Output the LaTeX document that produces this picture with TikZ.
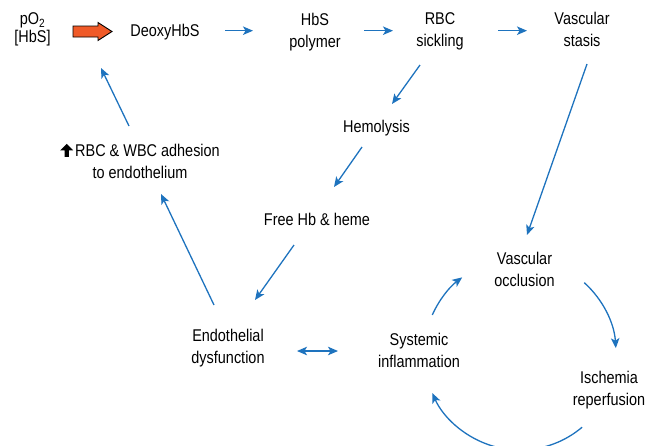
\documentclass[tikz,border=0pt]{standalone}
\usepackage{fontspec}
\setmainfont{Liberation Sans}[FakeStretch=0.85]
\usepackage{xcolor}
\usetikzlibrary{arrows.meta}

\definecolor{flowblue}{RGB}{30,115,190}
\definecolor{pushorange}{RGB}{240,90,40}

\newcommand{\uparr}{\tikz[x=1pt,y=1pt,baseline=0pt]\fill (4.3,0) -- (8.7,0) -- (8.7,6.5) -- (13,6.5) -- (6.5,13) -- (0,6.5) -- (4.3,6.5) -- cycle;\hspace{2pt}}

\begin{document}
\begin{tikzpicture}[x=1pt, y=-1pt,
  lbl/.style={align=center, inner sep=0pt, font=\fontsize{17}{22}\selectfont},
  flow/.style={flowblue, line width=1.3pt, -{Stealth[length=10pt,width=8.5pt,inset=2.5pt]}},
  twoway/.style={flow, {Stealth[length=10pt,width=8.5pt,inset=2.5pt]}-{Stealth[length=10pt,width=8.5pt,inset=2.5pt]}}]
	\useasboundingbox (0,0) rectangle (659,445);
	\node[lbl, font=\fontsize{17}{18.5}\selectfont] (po2) at (32.5,29.5) {pO\textsubscript{2}\\{}[HbS]};
	\draw[fill=pushorange, line width=0.9pt] (73,26) -- (98,26) -- (98,22.5) -- (112,31.5) -- (98,40.5) -- (98,37) -- (73,37) -- cycle;
	\node[lbl] (deoxy) at (165,31.7) {DeoxyHbS};
	\node[lbl] (hbs) at (315,31.7) {HbS\\polymer};
	\node[lbl] (sick) at (440,31.7) {RBC\\sickling};
	\node[lbl] (stasis) at (582,29.9) {Vascular\\stasis};
	\node[lbl] (hemo) at (376.5,127.7) {Hemolysis};
	\node[lbl] (freehb) at (317,219.9) {Free Hb \& heme};
	\node[lbl] (adh) at (140,161.4) {\uparr RBC \& WBC adhesion\\to endothelium};
	\node[lbl] (endo) at (228,348.2) {Endothelial\\dysfunction};
	\node[lbl] (sysinf) at (419,350.9) {Systemic\\inflammation};
	\node[lbl] (occl) at (524.5,269.9) {Vascular\\occlusion};
	\node[lbl] (isch) at (609,389.7) {Ischemia\\reperfusion};
	% top row
	\draw[flow] ([shift={(60,-1)}]deoxy.center) -- ([shift={(-62,-1)}]hbs.center);
	\draw[flow] ([shift={(49,-1)}]hbs.center) -- ([shift={(-47,-1)}]sick.center);
	\draw[flow] ([shift={(58,-1)}]sick.center) -- ([shift={(-55,0.8)}]stasis.center);
	% hemolysis branch
	\draw[flow] ([shift={(-20,33.3)}]sick.center) -- ([shift={(15.5,-23.7)}]hemo.center);
	\draw[flow] ([shift={(-14.5,19.3)}]hemo.center) -- ([shift={(17,-32.9)}]freehb.center);
	\draw[flow] ([shift={(-23,25.1)}]freehb.center) -- ([shift={(27,-48.2)}]endo.center);
	\draw[flow] ([shift={(-14,-43.2)}]endo.center) -- ([shift={(21,32.6)}]adh.center);
	\draw[flow] ([shift={(-11,-35.4)}]adh.center) -- ([shift={(-64,36.3)}]deoxy.center);
	\draw[flow] ([shift={(5,34.1)}]stasis.center) -- ([shift={(2.5,-34.9)}]occl.center);
	\draw[twoway] ([shift={(69,2.8)}]endo.center) -- ([shift={(-81,0.1)}]sysinf.center);
	% occlusion cycle
	\coordinate (cyc) at (520,354);
	\draw[flow] ([shift={(-48:96)}]cyc) arc[start angle=-48, end angle=-3.5, radius=96];
	\draw[flow] ([shift={(49.7:96)}]cyc) arc[start angle=49.7, end angle=156, radius=96];
	\draw[flow] ([shift={(204:96)}]cyc) arc[start angle=204, end angle=233, radius=96];
\end{tikzpicture}
\end{document}
